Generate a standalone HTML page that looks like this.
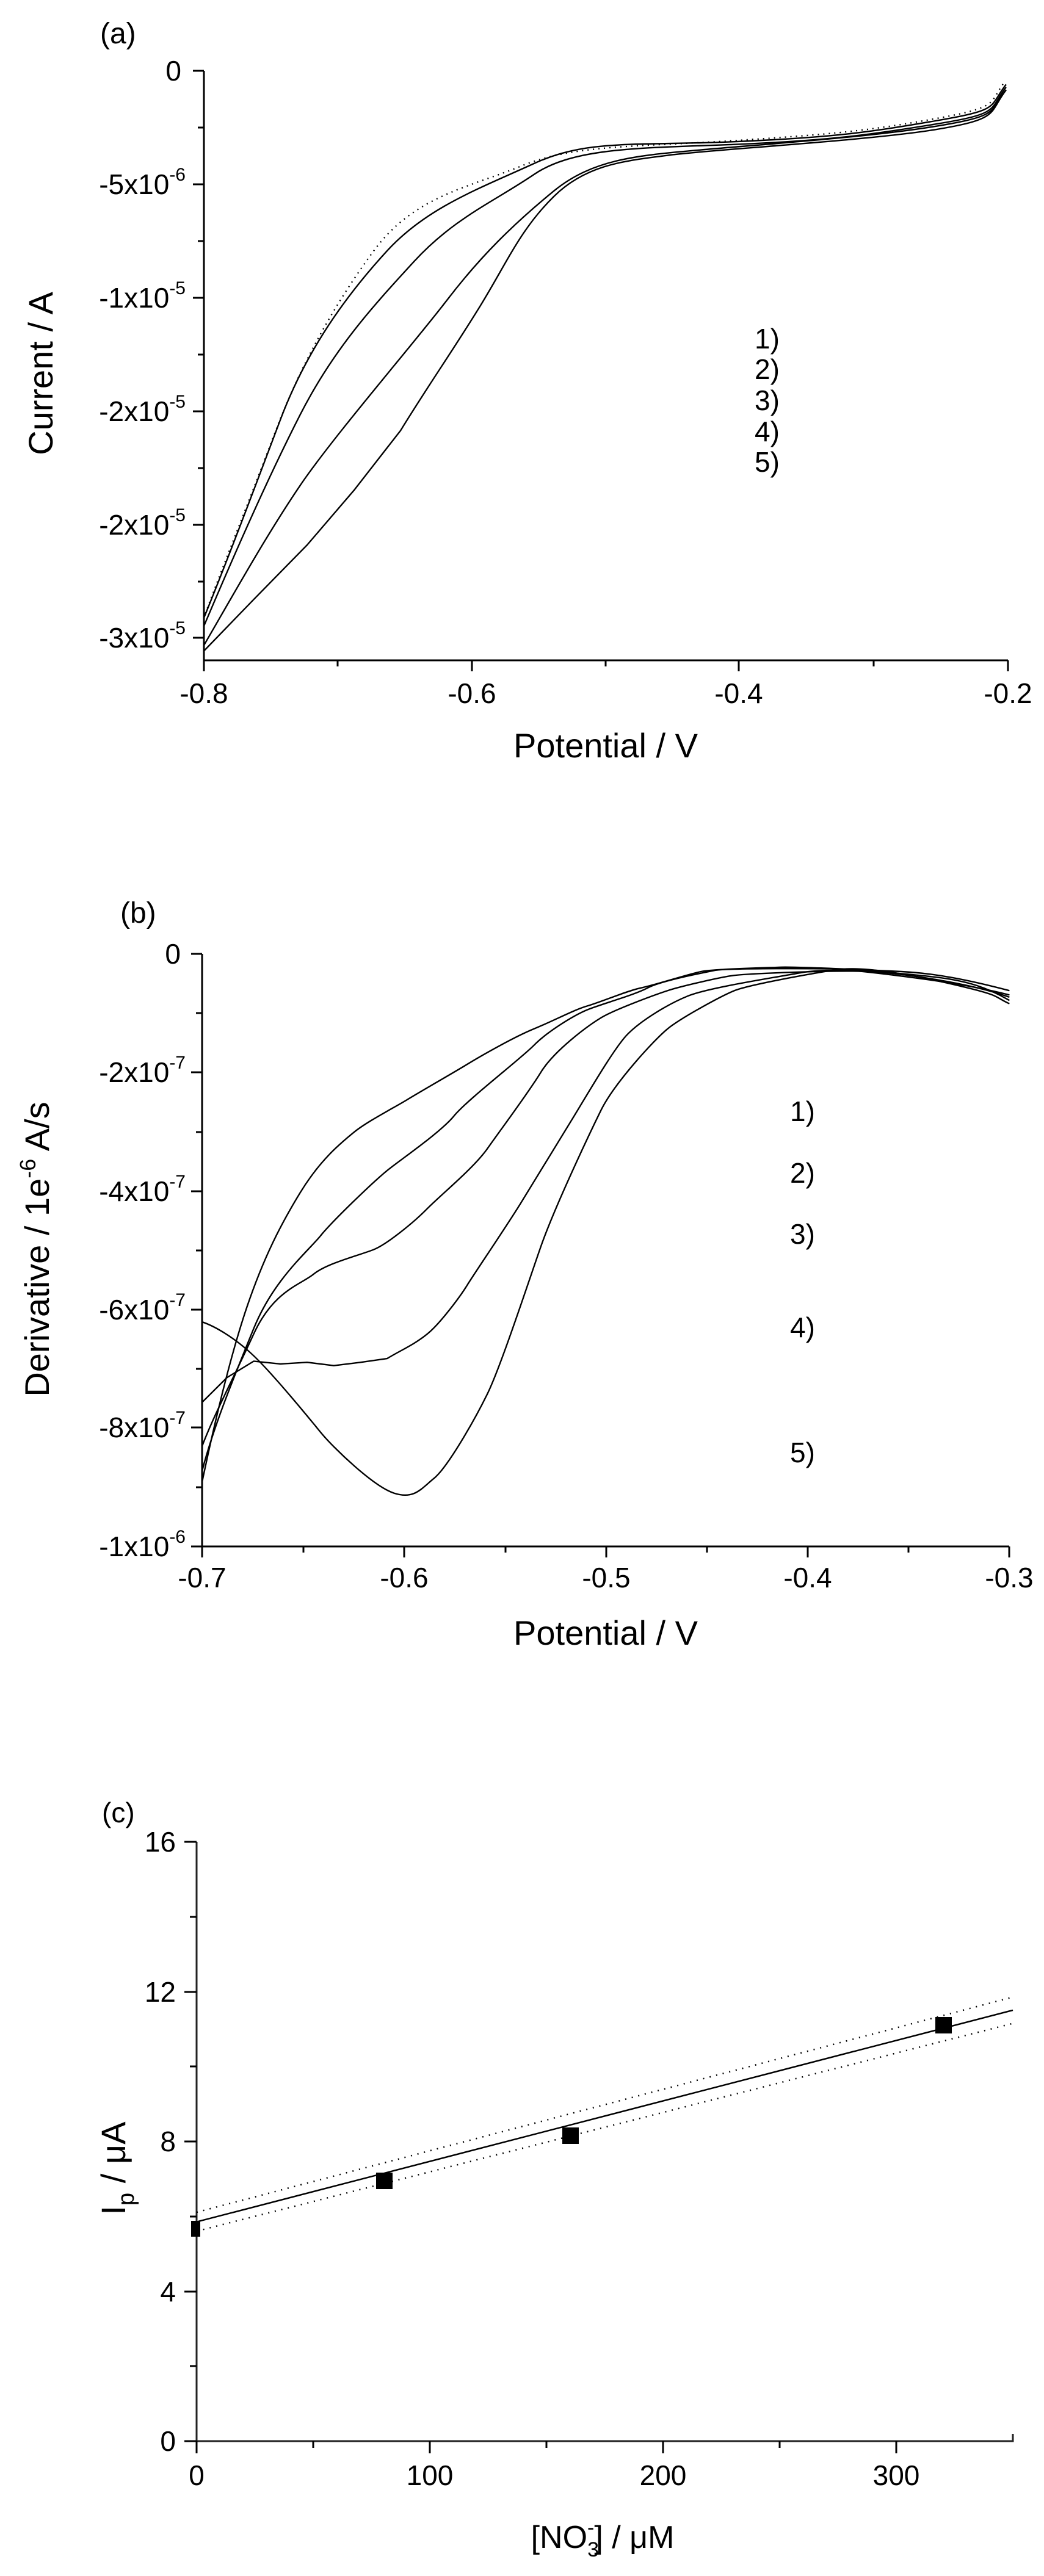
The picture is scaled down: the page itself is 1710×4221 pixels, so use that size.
<!DOCTYPE html>
<html><head><meta charset="utf-8"><style>
html,body{margin:0;padding:0;background:#fff}
svg{display:block}
text{font-family:"Liberation Sans",Arial,sans-serif;fill:#000}
.c{fill:none;stroke:#000;stroke-width:2.4;vector-effect:non-scaling-stroke;stroke-linejoin:round}
.ax{fill:none;stroke:#000;stroke-width:3}
.t{font-size:46px}
.ti{font-size:56px}
</style></head><body>
<svg width="1710" height="4221" viewBox="0 0 1710 4221" xmlns="http://www.w3.org/2000/svg">
<!-- Panel (a) -->
<text x="164" y="71" class="t" style="font-size:48px">(a)</text>
<g class="ax">
<path d="M334 116 V1082 H1651"/>
<path d="M334 116 h-18 M334 302 h-18 M334 488 h-18 M334 674 h-18 M334 860 h-18 M334 1045 h-18 M334 209 h-10 M334 395 h-10 M334 581 h-10 M334 767 h-10 M334 953 h-10"/>
<path d="M334 1082 v18 M773 1082 v18 M1210 1082 v18 M1651 1082 v18 M553 1082 v10 M992 1082 v10 M1431 1082 v10"/>
</g>
<g class="t" text-anchor="end">
<text x="297" y="132">0</text>
<text x="304" y="318">-5x10<tspan dy="-22" font-size="30">-6</tspan></text>
<text x="304" y="504">-1x10<tspan dy="-22" font-size="30">-5</tspan></text>
<text x="304" y="690">-2x10<tspan dy="-22" font-size="30">-5</tspan></text>
<text x="304" y="876">-2x10<tspan dy="-22" font-size="30">-5</tspan></text>
<text x="304" y="1061">-3x10<tspan dy="-22" font-size="30">-5</tspan></text>
</g>
<g class="t" text-anchor="middle">
<text x="334" y="1152">-0.8</text><text x="773" y="1152">-0.6</text><text x="1210" y="1152">-0.4</text><text x="1651" y="1152">-0.2</text>
</g>
<text x="992" y="1241" class="ti" text-anchor="middle">Potential / V</text>
<text transform="translate(86,612) rotate(-90)" class="ti" text-anchor="middle">Current / A</text>
<g class="t"><text x="1236" y="571">1)</text><text x="1236" y="621">2)</text><text x="1236" y="672">3)</text><text x="1236" y="723">4)</text><text x="1236" y="773">5)</text></g>
<g transform="scale(1.0935,0.893)">
<path class="c" style="stroke-dasharray:2 7" d="M305,1135 C330,1050 370,930 410,800 S500,560 560,460 S700,345 780,305 S950,270 1100,258 S1300,240 1400,218 S1480,190 1505,150"/>
<path class="c" d="M305,1135 C340,1030 380,900 420,770 S520,540 580,460 S720,345 800,300 S950,268 1100,260 S1300,243 1400,222 S1480,198 1507,155"/>
<path class="c" d="M305,1150 C350,1020 400,880 450,760 S560,560 620,480 S740,370 800,320 S960,272 1100,265 S1300,248 1400,228 S1480,203 1507,160"/>
<path class="c" d="M305,1185 C350,1090 400,980 450,890 S620,630 670,550 S770,410 830,350 S960,285 1050,275 S1300,252 1400,232 S1480,206 1507,165"/>
<path class="c" d="M305,1195 L380,1100 L460,1000 L530,900 L600,790 C640,710 680,640 720,560 S780,420 830,360 S940,295 1000,285 S1300,258 1400,238 S1480,208 1507,165"/>
</g>
<!-- Panel (b) -->
<text x="197" y="1512" class="t" style="font-size:48px">(b)</text>
<g class="ax">
<path d="M331 1563 V2534 H1653"/>
<path d="M331 1563 h-18 M331 1757 h-18 M331 1952 h-18 M331 2146 h-18 M331 2339 h-18 M331 2534 h-18 M331 1660 h-10 M331 1855 h-10 M331 2049 h-10 M331 2243 h-10 M331 2437 h-10"/>
<path d="M331 2534 v18 M662 2534 v18 M993 2534 v18 M1323 2534 v18 M1653 2534 v18 M497 2534 v10 M828 2534 v10 M1158 2534 v10 M1488 2534 v10"/>
</g>
<g class="t" text-anchor="end">
<text x="296" y="1579">0</text>
<text x="304" y="1773">-2x10<tspan dy="-22" font-size="30">-7</tspan></text>
<text x="304" y="1968">-4x10<tspan dy="-22" font-size="30">-7</tspan></text>
<text x="304" y="2162">-6x10<tspan dy="-22" font-size="30">-7</tspan></text>
<text x="304" y="2355">-8x10<tspan dy="-22" font-size="30">-7</tspan></text>
<text x="304" y="2550">-1x10<tspan dy="-22" font-size="30">-6</tspan></text>
</g>
<g class="t" text-anchor="middle">
<text x="331" y="2601">-0.7</text><text x="662" y="2601">-0.6</text><text x="993" y="2601">-0.5</text><text x="1323" y="2601">-0.4</text><text x="1653" y="2601">-0.3</text>
</g>
<text x="992" y="2695" class="ti" text-anchor="middle">Potential / V</text>
<text transform="translate(80,2047) rotate(-90)" class="ti" text-anchor="middle">Derivative / 1e<tspan dy="-22" font-size="36">-6</tspan><tspan dy="22"> A/s</tspan></text>
<g class="t"><text x="1294" y="1837">1)</text><text x="1294" y="1938">2)</text><text x="1294" y="2038">3)</text><text x="1294" y="2191">4)</text><text x="1294" y="2396">5)</text></g>
<g transform="translate(0,1400) scale(1.0935,0.893)">
<path class="c" d="M303,1150 C320,1050 345,920 370,830 S420,680 450,620 S510,530 530,510 S590,465 610,450 S680,400 700,385 S770,335 800,320 S860,285 880,278 S940,250 960,245 S1030,220 1050,215 S1150,208 1170,207 S1300,212 1350,215 S1450,230 1512,250"/>
<path class="c" d="M303,1130 C320,1050 350,960 380,870 S460,730 480,700 S560,600 580,580 S660,510 680,480 S780,375 800,350 S860,295 880,285 S950,258 970,245 S1050,218 1070,213 S1250,210 1250,210 S1420,228 1512,258"/>
<path class="c" d="M303,1085 C320,1030 350,960 380,880 S450,790 470,770 S540,735 560,725 S620,675 640,650 S710,575 730,540 S790,440 810,400 S880,315 900,300 S980,258 1000,250 S1080,225 1100,222 S1250,212 1300,215 S1450,235 1512,262"/>
<path class="c" d="M303,1005 L340,960 L380,930 L420,935 L460,932 L500,938 L540,932 L580,925 C600,910 620,900 640,880 S690,810 700,790 S760,680 780,640 S840,520 860,480 S920,355 940,330 S1000,275 1030,260 S1150,228 1200,217 S1350,218 1400,225 S1480,245 1512,268"/>
<path class="c" d="M303,858 C320,865 350,885 380,920 S460,1030 480,1060 S560,1160 590,1172 S630,1165 650,1145 S710,1040 730,990 S790,790 810,720 S880,520 900,470 S980,340 1000,320 S1080,260 1100,250 S1200,222 1250,212 S1400,230 1450,245 S1490,262 1512,274"/>
</g>
<!-- Panel (c) -->
<text x="167" y="2986" class="t" style="font-size:46px">(c)</text>
<g class="ax">
<path d="M322 3018 V4000 H1659 v-12" style="stroke:#222"/>
<path d="M322 3018 h-20 M322 3264 h-20 M322 3509 h-20 M322 3755 h-20 M322 4000 h-20 M322 3141 h-11 M322 3386 h-11 M322 3632 h-11 M322 3877 h-11"/>
<path d="M322 4000 v20 M704 4000 v20 M1086 4000 v20 M1468 4000 v20 M513 4000 v11 M895 4000 v11 M1277 4000 v11"/>
</g>
<g class="t" text-anchor="end">
<text x="288" y="3034">16</text><text x="288" y="3280">12</text><text x="288" y="3525">8</text><text x="288" y="3771">4</text><text x="288" y="4016">0</text>
</g>
<g class="t" text-anchor="middle">
<text x="322" y="4072">0</text><text x="704" y="4072">100</text><text x="1086" y="4072">200</text><text x="1468" y="4072">300</text>
</g>
<text x="987" y="4175" class="ti" text-anchor="middle" style="font-size:52px">[NO<tspan dy="14" font-size="34">3</tspan><tspan dx="-19" dy="-36" font-size="34">-</tspan><tspan dy="22">] / μM</tspan></text>
<text transform="translate(205,3553) rotate(-90)" class="ti" text-anchor="middle" style="font-size:56px">I<tspan dy="14" font-size="38">p</tspan><tspan dy="-14"> / μA</tspan></text>
<path d="M322 3640.7 L1659 3293.9" stroke="#000" stroke-width="2.5" fill="none"/>
<path d="M322 3625 L1659 3272.4" stroke="#000" stroke-width="2.5" stroke-dasharray="2 9" fill="none"/>
<path d="M322 3656 L1659 3315.5" stroke="#000" stroke-width="2.5" stroke-dasharray="2 9" fill="none"/>
<g fill="#000">
<rect x="313" y="3639" width="15" height="26"/>
<rect x="616" y="3560" width="27" height="27"/>
<rect x="921" y="3486" width="27" height="27"/>
<rect x="1532" y="3305" width="27" height="27"/>
</g>
</svg>
</body></html>
